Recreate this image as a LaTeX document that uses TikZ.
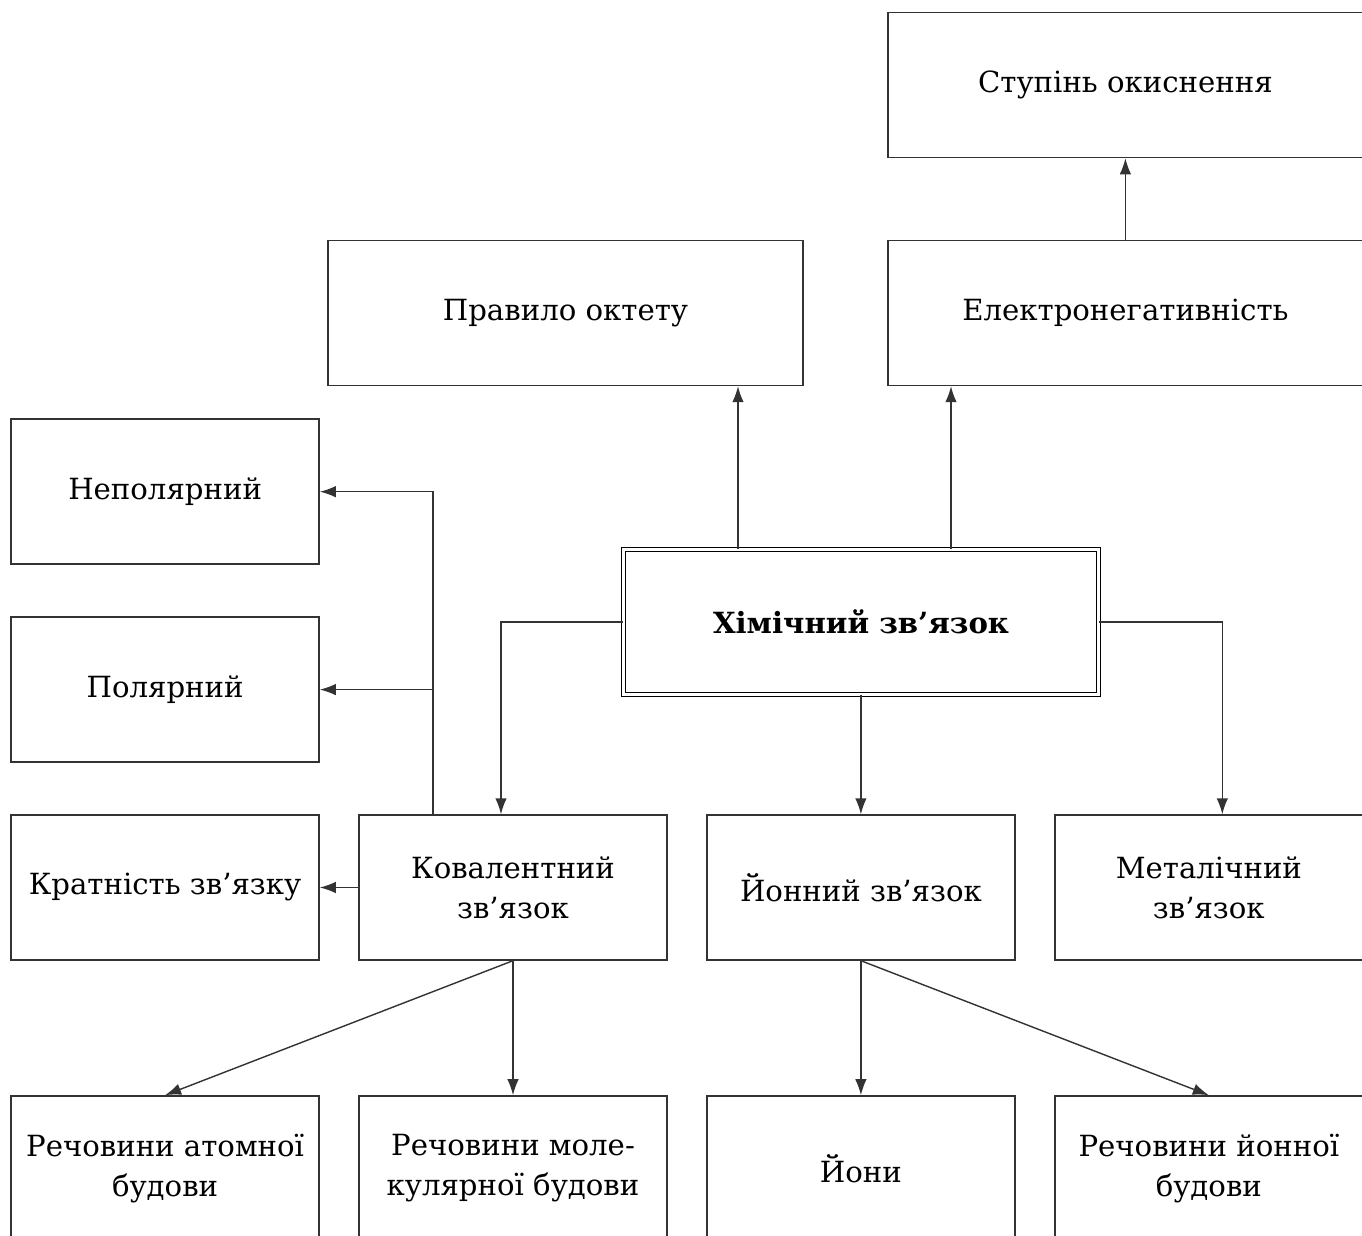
\documentclass[tikz,border=0pt]{standalone}
\usepackage{fontspec}
\setmainfont{DejaVu Serif}
\usetikzlibrary{positioning,arrows.meta}

\begin{document}
\begin{tikzpicture}

	\tikzstyle{box}=[draw=black!80,line width=0.8pt,
		minimum width=6.16cm,minimum height=2.9cm,
		align=center,font=\fontsize{16.6}{22.8}\selectfont]
	\tikzstyle{wide}=[box,minimum width=9.5cm]
	\tikzstyle{main}=[box,draw=black,double,double distance=1.3pt,
		line width=0.6pt,minimum width=9.5cm,minimum height=2.9cm,
		font=\fontsize{16.6}{22.8}\selectfont\bfseries]
	\tikzstyle{arr}=[draw=black!80,line width=0.8pt,
		-{Latex[length=3.2mm,width=2.3mm]}]

	\useasboundingbox (0,0) rectangle (27.24,-24.72);
	\clip (0,0) rectangle (27.24,-24.72);

	% top part
	\node[main]	(him)	at (17.22,-12.44)	{Хімічний зв’язок};
	\node[wide]	(prav)	at (11.31,-6.26)	{Правило октету};
	\node[wide,right=1.67cm of prav]	(el)	{Електронегативність};
	\node[wide,above=1.63cm of el]	(stup)	{Ступінь окиснення};

	% middle row
	\node[box]	(kov)	at (10.26,-17.75)	{Ковалентний\\зв’язок};
	\node[box,left=0.77cm of kov]	(kra)	{Кратність зв’язку};
	\node[box,above=1.03cm of kra]	(pol)	{Полярний};
	\node[box,above=1.03cm of pol]	(nep)	{Неполярний};
	\node[box,right=0.77cm of kov]	(yon)	{Йонний зв’язок};
	\node[box,right=0.77cm of yon]	(met)	{Металічний\\зв’язок};

	% bottom row
	\node[box,below=2.69cm of kra]	(atom)	{Речовини атомної\\будови};
	\node[box,below=2.69cm of kov]	(mol)	{Речовини моле-\\кулярної будови};
	\node[box,below=2.69cm of yon]	(yoni)	{Йони};
	\node[box,below=2.69cm of met]	(ryon)	{Речовини йонної\\будови};

	\coordinate (h1) at ([xshift=-2.46cm]him.north);
	\coordinate (h2) at ([xshift=1.8cm]him.north);
	\coordinate (k1) at ([xshift=-0.24cm]kov.north);
	\coordinate (k2) at ([xshift=-1.6cm]kov.north);
	\coordinate (m1) at ([xshift=0.27cm]met.north);

	\draw[arr] (h1) -- (h1 |- prav.south);
	\draw[arr] (h2) -- (h2 |- el.south);
	\draw[arr] (el.north) -- (stup.south);
	\draw[arr] (him.west) -| (k1);
	\draw[arr] (yon.north |- him.south) -- (yon.north);
	\draw[arr] (him.east) -| (m1);
	\draw[arr] (k2) |- (nep.east);
	\draw[arr] (k2 |- pol.east) -- (pol.east);
	\draw[arr] (kov.west) -- (kra.east);
	\draw[arr] (kov.south) -- (atom.north);
	\draw[arr] (kov.south) -- (mol.north);
	\draw[arr] (yon.south) -- (yoni.north);
	\draw[arr] (yon.south) -- (ryon.north);

\end{tikzpicture}
\end{document}
